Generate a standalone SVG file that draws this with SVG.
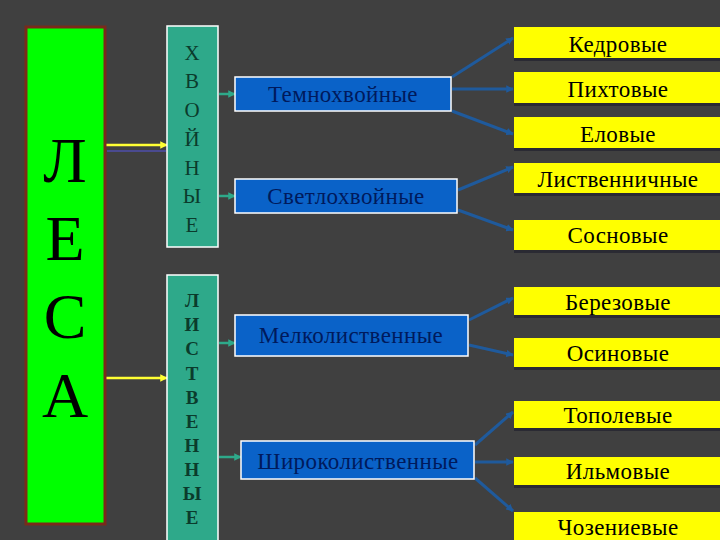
<svg xmlns="http://www.w3.org/2000/svg" width="720" height="540" viewBox="0 0 720 540">
<defs>
<style>
.bg{fill:#404040}
.green{fill:#00ff00;stroke:#7a2a1a;stroke-width:3}
.teal{fill:#2ea98a;stroke:#ffffff;stroke-width:1.5}
.blue{fill:#0a62c8;stroke:#ffffff;stroke-width:1.5}
.yel{fill:#ffff00}
.shadow{fill:#2a2a33}
.big{font-family:"Liberation Serif","Times New Roman",serif;font-size:64px;fill:#000;text-anchor:middle}
.vt{font-family:"Liberation Serif","Times New Roman",serif;font-size:21px;fill:#0b3b2c;text-anchor:middle}
.vtb{font-family:"Liberation Serif","Times New Roman",serif;font-size:19px;font-weight:bold;fill:#0b3b2c;text-anchor:middle}
.bt{font-family:"Liberation Serif","Times New Roman",serif;font-size:23px;letter-spacing:0.4px;fill:#001a5c;text-anchor:middle}
.yt{font-family:"Liberation Serif","Times New Roman",serif;font-size:23px;letter-spacing:0.4px;fill:#000;text-anchor:middle}
.ya{stroke:#ffff33;stroke-width:2.5;fill:none;marker-end:url(#ah-y)}
.ys{stroke:#4a4a90;stroke-width:2;fill:none}
.ta{stroke:#2ea98a;stroke-width:2.5;fill:none;marker-end:url(#ah-t)}
.ba{stroke:#1f5a9c;stroke-width:3;fill:none;marker-end:url(#ah-b)}
</style>
<marker id="ah-y" viewBox="0 0 10 10" refX="9" refY="5" markerWidth="3" markerHeight="3" orient="auto"><path d="M0,0 L10,5 L0,10 z" fill="#ffff33"/></marker>
<marker id="ah-t" viewBox="0 0 10 10" refX="9" refY="5" markerWidth="3" markerHeight="3" orient="auto"><path d="M0,0 L10,5 L0,10 z" fill="#2ea98a"/></marker>
<marker id="ah-b" viewBox="0 0 10 10" refX="9" refY="5" markerWidth="2.5" markerHeight="2.5" orient="auto"><path d="M0,0 L10,5 L0,10 z" fill="#1f5a9c"/></marker>
</defs>
<rect class="bg" x="0" y="0" width="720" height="540"/>

<g id="connectors">
<line class="ys" x1="107" y1="151" x2="166" y2="151"/>
<line class="ya" x1="106" y1="145" x2="167" y2="145"/>
<line class="ya" x1="106" y1="378" x2="167" y2="378"/>
<line class="ta" x1="219" y1="94" x2="235" y2="94"/>
<line class="ta" x1="219" y1="196" x2="235" y2="196"/>
<line class="ta" x1="219" y1="343" x2="235" y2="343"/>
<line class="ta" x1="219" y1="457" x2="241" y2="457"/>
<line class="ba" x1="452" y1="77" x2="513" y2="38"/>
<line class="ba" x1="452" y1="89" x2="513" y2="89"/>
<line class="ba" x1="452" y1="111" x2="513" y2="134"/>
<line class="ba" x1="458" y1="190" x2="513" y2="167"/>
<line class="ba" x1="458" y1="210" x2="513" y2="230"/>
<line class="ba" x1="469" y1="320" x2="513" y2="298"/>
<line class="ba" x1="469" y1="345" x2="513" y2="355"/>
<line class="ba" x1="475" y1="445" x2="513" y2="412"/>
<line class="ba" x1="475" y1="462" x2="513" y2="462"/>
<line class="ba" x1="475" y1="478" x2="513" y2="511"/>
</g>

<g id="lesa">
<rect class="green" x="26" y="27" width="79" height="497"/>
<text class="big" x="65" y="182">Л</text>
<text class="big" x="65" y="260">Е</text>
<text class="big" x="65" y="338">С</text>
<text class="big" x="65" y="417">А</text>
</g>

<g id="hvoinye">
<rect class="teal" x="167" y="26" width="51" height="221"/>
<text class="vt" x="192" y="60">Х</text>
<text class="vt" x="192" y="88">В</text>
<text class="vt" x="192" y="117">О</text>
<text class="vt" x="192" y="146">Й</text>
<text class="vt" x="192" y="175">Н</text>
<text class="vt" x="192" y="203">Ы</text>
<text class="vt" x="192" y="232">Е</text>
</g>

<g id="listvennye">
<rect class="teal" x="167" y="275" width="51" height="270"/>
<text class="vtb" x="192" y="307">Л</text>
<text class="vtb" x="192" y="331">И</text>
<text class="vtb" x="192" y="355">С</text>
<text class="vtb" x="192" y="380">Т</text>
<text class="vtb" x="192" y="404">В</text>
<text class="vtb" x="192" y="428">Е</text>
<text class="vtb" x="192" y="452">Н</text>
<text class="vtb" x="192" y="476">Н</text>
<text class="vtb" x="192" y="500">Ы</text>
<text class="vtb" x="192" y="524">Е</text>
</g>

<g id="temnohvoinye">
<rect class="blue" x="235" y="77" width="216" height="34"/>
<text class="bt" x="343" y="102">Темнохвойные</text>
</g>
<g id="svetlohvoinye">
<rect class="blue" x="235" y="179" width="222" height="34"/>
<text class="bt" x="346" y="204">Светлохвойные</text>
</g>
<g id="melkolistvennye">
<rect class="blue" x="235" y="315" width="233" height="41"/>
<text class="bt" x="351" y="343">Мелколиственные</text>
</g>
<g id="shirokolistvennye">
<rect class="blue" x="241" y="441" width="233" height="38"/>
<text class="bt" x="358" y="469">Широколиственные</text>
</g>

<g id="kedrovye">
<rect class="shadow" x="514" y="58" width="206" height="3"/>
<rect class="yel" x="514" y="27" width="206" height="31"/>
<text class="yt" x="618" y="52">Кедровые</text>
</g>
<g id="pihtovye">
<rect class="shadow" x="514" y="103" width="206" height="3"/>
<rect class="yel" x="514" y="72" width="206" height="31"/>
<text class="yt" x="618" y="97">Пихтовые</text>
</g>
<g id="elovye">
<rect class="shadow" x="514" y="148" width="206" height="3"/>
<rect class="yel" x="514" y="117" width="206" height="31"/>
<text class="yt" x="618" y="142">Еловые</text>
</g>
<g id="listvennichnye">
<rect class="shadow" x="514" y="193" width="206" height="3"/>
<rect class="yel" x="514" y="163" width="206" height="30"/>
<text class="yt" x="618" y="187">Лиственничные</text>
</g>
<g id="sosnovye">
<rect class="shadow" x="514" y="250" width="206" height="3"/>
<rect class="yel" x="514" y="220" width="206" height="30"/>
<text class="yt" x="618" y="243">Сосновые</text>
</g>
<g id="berezovye">
<rect class="shadow" x="514" y="315" width="206" height="3"/>
<rect class="yel" x="514" y="287" width="206" height="28"/>
<text class="yt" x="618" y="310">Березовые</text>
</g>
<g id="osinovye">
<rect class="shadow" x="514" y="367" width="206" height="3"/>
<rect class="yel" x="514" y="338" width="206" height="29"/>
<text class="yt" x="618" y="361">Осиновые</text>
</g>
<g id="topolevye">
<rect class="shadow" x="514" y="428" width="206" height="3"/>
<rect class="yel" x="514" y="401" width="206" height="27"/>
<text class="yt" x="618" y="423">Тополевые</text>
</g>
<g id="ilmovye">
<rect class="shadow" x="514" y="485" width="206" height="3"/>
<rect class="yel" x="514" y="457" width="206" height="28"/>
<text class="yt" x="618" y="479">Ильмовые</text>
</g>
<g id="chozenievye">
<rect class="yel" x="514" y="512" width="206" height="28"/>
<text class="yt" x="618" y="535">Чозениевые</text>
</g>
</svg>
